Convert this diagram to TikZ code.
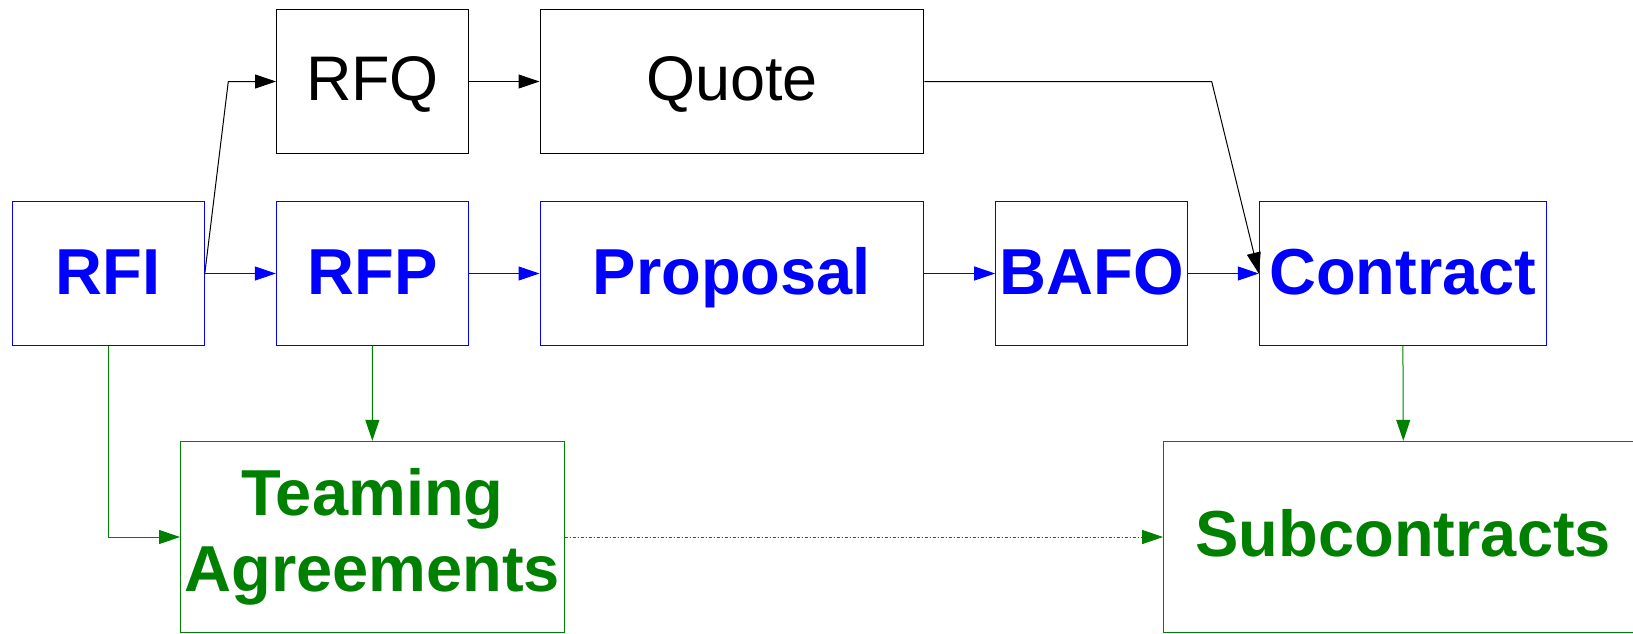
\documentclass[tikz,border=0pt]{standalone}
\usepackage{fontspec}
\setmainfont{Liberation Sans}
\usetikzlibrary{arrows.meta}
\definecolor{flowblue}{RGB}{0,0,255}
\definecolor{flowgreen}{RGB}{0,128,0}
\begin{document}
\begin{tikzpicture}[x=1pt,y=-1pt,
  boxbase/.style={rectangle, draw, line width=1pt, inner sep=0pt, align=center},
  blackbox/.style={boxbase, draw=black, text=black,
    font=\fontsize{63}{72}\selectfont, text height=45.1pt, text depth=8.1pt},
  bluebox/.style={boxbase, draw=flowblue, text=flowblue,
    font=\fontsize{65}{76}\selectfont\bfseries, text height=46.5pt, text depth=5.5pt},
  greenbox/.style={boxbase, draw=flowgreen, text=flowgreen,
    font=\fontsize{65}{76}\selectfont\bfseries},
  tip/.style={-{Triangle[length=21pt,width=14pt]}, line width=1pt},
  blackflow/.style={tip, draw=black},
  blueflow/.style={tip, draw=flowblue},
  greenflow/.style={tip, draw=flowgreen},
  teamflow/.style={greenflow, dash pattern=on 3pt off 2pt on 1pt off 2pt}
]
\useasboundingbox (0,0) rectangle (1633,633);
\clip (0,0) rectangle (1633,633);

% top row: quotation path
\node[blackbox, minimum width=192pt, minimum height=144.4pt] (rfq) at (372.5,81.5) {RFQ};
\node[blackbox, minimum width=383.8pt, minimum height=144.4pt] (quote) at (731.9,81.5) {Quote};

% middle row: proposal path
\node[bluebox, minimum width=192pt, minimum height=143.6pt] (rfi) at (108.3,273.5) {RFI};
\node[bluebox, minimum width=192.3pt, minimum height=143.6pt] (rfp) at (372.5,273.5) {RFP};
\node[bluebox, minimum width=383.8pt, minimum height=143.6pt] (proposal) at (731.9,273.5) {Proposal};
\node[bluebox, minimum width=191.6pt, minimum height=143.6pt] (bafo) at (1091.5,273.5) {BAFO};
\node[bluebox, minimum width=287.2pt, minimum height=143.6pt] (contract) at (1402.9,273.5) {Contract};

% bottom row: teaming and subcontracts
\node[greenbox, minimum width=383.5pt, minimum height=191.4pt] (team) at (372.3,537) {Teaming\\Agreements};
\node[greenbox, minimum width=479.4pt, minimum height=191.4pt,
      text height=46.5pt, text depth=7.1pt] (subc) at (1403.3,537) {Subcontracts};

% bend points
\coordinate (rfqbend) at (228.3,81.5);
\coordinate (quotebend) at (1211.7,81.5);

% connectors
\draw[blackflow] (rfi.east) -- (rfqbend) -- (rfq.west);
\draw[blackflow] (rfq.east) -- (quote.west);
\draw[blackflow] (quote.east) -- (quotebend) -- (contract.west);

\draw[blueflow] (rfi.east) -- (rfp.west);
\draw[blueflow] (rfp.east) -- (proposal.west);
\draw[blueflow] (proposal.east) -- (bafo.west);
\draw[blueflow] (bafo.east) -- (contract.west);

\draw[greenflow] (rfi.south) -- (rfi.south |- team.west) -- (team.west);
\draw[greenflow] (rfp.south) -- (team.north);
\draw[greenflow] (contract.south) -- (subc.north);
\draw[teamflow] (team.east) -- (subc.west);
\end{tikzpicture}
\end{document}
